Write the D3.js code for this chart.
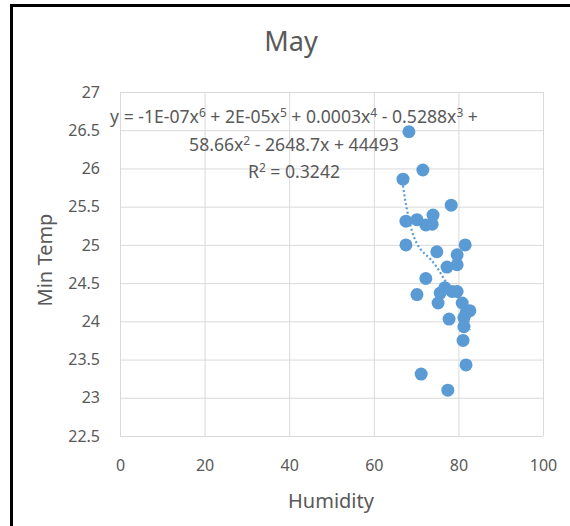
<!DOCTYPE html>
<html>
<head>
<meta charset="utf-8">
<script src="https://cdn.jsdelivr.net/npm/d3@7/dist/d3.min.js"></script>
<style>
    body { margin: 0; background: #fff; }
    text { font-family: "Noto Sans", sans-serif; fill: #595959; }
    .grid line { stroke: #d9d9d9; stroke-width: 1; }
    .grid path { display: none; }
    .axis path, .axis line { display: none; }
</style>
</head>
<body>
<script>
//humidity (x) and min temp (y) readings for May
var humidity = [68.3, 71.6, 66.9, 78.3, 74.0, 67.6, 70.2, 72.3, 73.8, 67.6, 81.6,
    74.9, 79.7, 77.3, 79.7, 72.3, 76.8, 75.7, 78.5, 79.7, 70.2, 75.2, 80.9,
    82.7, 81.8, 77.8, 81.3, 81.3, 81.1, 81.8, 71.2, 77.5];
var minTemp = [26.48, 25.98, 25.86, 25.52, 25.39, 25.31, 25.33, 25.26, 25.27, 25.0, 25.0,
    24.91, 24.87, 24.71, 24.74, 24.56, 24.44, 24.37, 24.39, 24.39, 24.35, 24.24, 24.24,
    24.14, 24.11, 24.03, 24.05, 23.93, 23.75, 23.43, 23.31, 23.10];

//tick values
var xTicks = [0, 20, 40, 60, 80, 100];
var yTicks = [22.5, 23, 23.5, 24, 24.5, 25, 25.5, 26, 26.5, 27];

//titles
var chartTitle = "May",
    xTitle = "Humidity",
    yTitle = "Min Temp";

//trendline label, pieces flagged true are superscripts
var eqLines = [
    [["y = -1E-07x", false], ["6", true], [" + 2E-05x", false], ["5", true],
     [" + 0.0003x", false], ["4", true], [" - 0.5288x", false], ["3", true], [" +", false]],
    [["58.66x", false], ["2", true], [" - 2648.7x + 44493", false]],
    [["R", false], ["2", true], [" = 0.3242", false]]
];

var trendOrder = 6;

window.onload = drawChart();

function drawChart(){
    var width = 570,
        height = 526;

    var svg = d3.select("body")
        .append("svg")
        .attr("width", width)
        .attr("height", height);

    //plot area bounds
    var left = 120, right = 543, top = 92, bottom = 436;

    var x = d3.scaleLinear().domain([0, 100]).range([left, right]);
    var y = d3.scaleLinear().domain([22.5, 27]).range([bottom, top]);

    //gridlines
    svg.append("g")
        .attr("class", "grid")
        .attr("transform", "translate(0," + bottom + ")")
        .call(d3.axisBottom(x).tickValues(xTicks).tickSize(-(bottom - top)).tickFormat(""));
    svg.append("g")
        .attr("class", "grid")
        .attr("transform", "translate(" + left + ",0)")
        .call(d3.axisLeft(y).tickValues(yTicks).tickSize(-(right - left)).tickFormat(""));

    //tick labels
    svg.append("g")
        .attr("class", "axis")
        .attr("transform", "translate(0," + bottom + ")")
        .call(d3.axisBottom(x).tickValues(xTicks).tickSize(0).tickPadding(24));
    svg.append("g")
        .attr("class", "axis")
        .attr("transform", "translate(" + left + ",0)")
        .call(d3.axisLeft(y).tickValues(yTicks).tickSize(0).tickPadding(20)
            .tickFormat(function(d){ return String(d); }));
    svg.selectAll(".axis text")
        .style("font-size", "16px")
        .style("font-family", "Noto Sans")
        .attr("fill", "#595959");

    //trendline over the range of the data
    var fit = polyFit(humidity, minTemp, trendOrder);
    var lo = d3.min(humidity), hi = d3.max(humidity);
    var xs = d3.range(0, 201).map(function(i){
        return lo + (hi - lo) * i / 200;
    });
    var line = d3.line()
        .x(function(d){ return x(d); })
        .y(function(d){ return y(fit(d)); });
    svg.append("path")
        .datum(xs)
        .attr("d", line)
        .attr("fill", "none")
        .attr("stroke", "#5b9bd5")
        .attr("stroke-width", 2.2)
        .attr("stroke-dasharray", "2,2.4");

    //points
    svg.selectAll(".dot")
        .data(humidity)
        .enter()
        .append("circle")
        .attr("class", "dot")
        .attr("cx", function(d){ return x(d); })
        .attr("cy", function(d, i){ return y(minTemp[i]); })
        .attr("r", 6.5)
        .attr("fill", "#5b9bd5");

    //trendline equation
    var eq = svg.append("text")
        .attr("text-anchor", "middle")
        .style("font-size", "17.6px");
    eqLines.forEach(function(parts, i){
        var row = eq.append("tspan")
            .attr("x", 294)
            .attr("y", 123 + i * 27.5);
        parts.forEach(function(p, k){
            var t = row.append("tspan").text(p[0]);
            if (p[1]) {
                t.attr("dy", -6).style("font-size", "12px");
            } else if (k > 0 && parts[k - 1][1]) {
                //back to the baseline after a superscript
                t.attr("dy", 6);
            }
        });
    });

    //titles
    svg.append("text")
        .attr("x", 291)
        .attr("y", 51)
        .attr("text-anchor", "middle")
        .style("font-size", "27px")
        .text(chartTitle);
    svg.append("text")
        .attr("x", 331)
        .attr("y", 508)
        .attr("text-anchor", "middle")
        .style("font-size", "20px")
        .text(xTitle);
    svg.append("text")
        .attr("transform", "translate(52,260) rotate(-90)")
        .attr("text-anchor", "middle")
        .style("font-size", "20px")
        .text(yTitle);

    //outer frame
    svg.append("rect")
        .attr("x", 11.5)
        .attr("y", 5.5)
        .attr("width", 700)
        .attr("height", 700)
        .attr("fill", "none")
        .attr("stroke", "#000")
        .attr("stroke-width", 3);
}

//least squares polynomial fit, x is standardised to keep the system stable
function polyFit(xs, ys, order){
    var mean = d3.mean(xs),
        sd = d3.deviation(xs),
        m = order + 1;
    var us = xs.map(function(v){ return (v - mean) / sd; });

    var A = [], b = [];
    for (var i = 0; i < m; i++){
        A[i] = [];
        for (var j = 0; j < m; j++){
            A[i][j] = d3.sum(us, function(u){ return Math.pow(u, i + j); });
        }
        b[i] = d3.sum(us, function(u, k){ return ys[k] * Math.pow(u, i); });
    }

    //gaussian elimination with partial pivoting
    for (var c = 0; c < m; c++){
        var piv = c;
        for (var r = c + 1; r < m; r++){
            if (Math.abs(A[r][c]) > Math.abs(A[piv][c])) piv = r;
        }
        var tmp = A[c]; A[c] = A[piv]; A[piv] = tmp;
        var tb = b[c]; b[c] = b[piv]; b[piv] = tb;
        for (var r2 = c + 1; r2 < m; r2++){
            var f = A[r2][c] / A[c][c];
            for (var k = c; k < m; k++) A[r2][k] -= f * A[c][k];
            b[r2] -= f * b[c];
        }
    }
    var coef = new Array(m);
    for (var r3 = m - 1; r3 >= 0; r3--){
        var s = b[r3];
        for (var k2 = r3 + 1; k2 < m; k2++) s -= A[r3][k2] * coef[k2];
        coef[r3] = s / A[r3][r3];
    }

    return function(v){
        var u = (v - mean) / sd, out = 0;
        for (var q = m - 1; q >= 0; q--) out = out * u + coef[q];
        return out;
    };
}
</script>
</body>
</html>
